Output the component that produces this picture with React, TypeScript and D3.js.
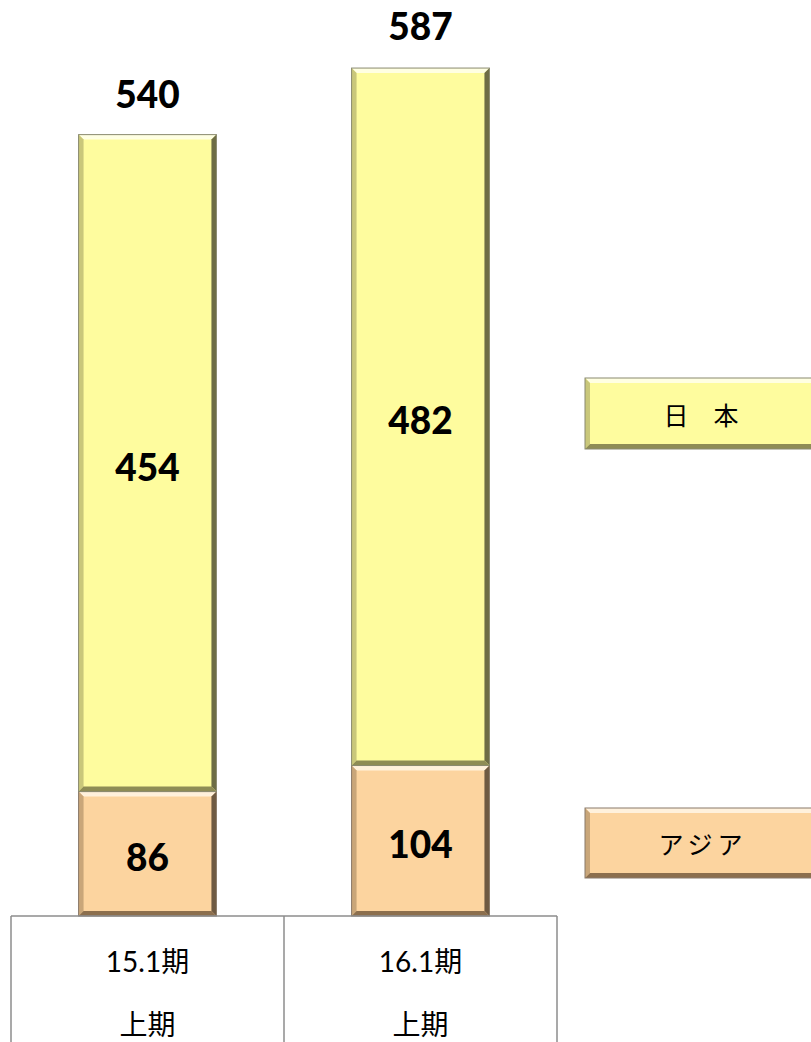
import React from "react";
import * as d3 from "d3";

const categories = ["15.1期", "16.1期"];
const periodLabels = ["上期", "上期"];
const asiaValues = [86, 104];
const japanValues = [454, 482];
const totalValues = [540, 587];
const seriesNames = ["日　本", "アジア"];

const W = 811;
const H = 1042;
const baseY = 916;

const YELLOW = { fill: "#FEFC9E", top: "#FFFFE2", left: "#C9C77A", right: "#6E6D45", bottom: "#8E8C55", border: "#8a8a70" };
const ORANGE = { fill: "#FCD49F", top: "#FFF1DC", left: "#C9A679", right: "#6F5A42", bottom: "#8C6F4E", border: "#8a7a6a" };

type Pal = typeof YELLOW;

function Bevel({ x, y, w, h, pal, b = 5 }: { x: number; y: number; w: number; h: number; pal: Pal; b?: number }) {
  const pts = (a: number[][]) => a.map((p) => p.join(",")).join(" ");
  return (
    <g>
      <rect x={x} y={y} width={w} height={h} fill={pal.fill} />
      <polygon points={pts([[x, y], [x + w, y], [x + w - b, y + b], [x + b, y + b]])} fill={pal.top} />
      <polygon points={pts([[x, y], [x + b, y + b], [x + b, y + h - b], [x, y + h]])} fill={pal.left} />
      <polygon points={pts([[x + w, y], [x + w, y + h], [x + w - b, y + h - b], [x + w - b, y + b]])} fill={pal.right} />
      <polygon points={pts([[x, y + h], [x + w, y + h], [x + w - b, y + h - b], [x + b, y + h - b]])} fill={pal.bottom} />
      <rect x={x} y={y} width={w} height={h} fill="none" stroke={pal.border} strokeWidth={1} />
    </g>
  );
}

export default function App() {
  const x = d3.scaleBand<string>().domain(categories).range([11, 557]).paddingInner(0).paddingOuter(0);
  const y = d3.scaleLinear().domain([0, 600]).range([baseY, baseY - 600 * 1.447]);
  const bw = x.bandwidth() * 0.505;
  const numFont = "Lato, 'Noto Sans', sans-serif";
  const cjkFont = "Lato, 'Noto Sans CJK JP', sans-serif";

  return (
    <svg width={W} height={H} style={{ position: "absolute", left: 0, top: 0, background: "#fff" }}>
      {categories.map((c, i) => {
        const cx = (x(c) as number) + x.bandwidth() / 2;
        const bx = cx - bw / 2;
        const yA = y(asiaValues[i]);
        const yJ = y(asiaValues[i] + japanValues[i]);
        return (
          <g key={c}>
            <Bevel x={bx} y={yA} w={bw} h={baseY - yA} pal={ORANGE} />
            <Bevel x={bx} y={yJ} w={bw} h={yA - yJ} pal={YELLOW} />
            <text x={cx} y={(yA + baseY) / 2 + 3} textAnchor="middle" dominantBaseline="central" fontFamily={numFont} fontWeight="900" fontSize={37} fill="#000">
              {asiaValues[i]}
            </text>
            <text x={cx} y={(yJ + yA) / 2 + 3} textAnchor="middle" dominantBaseline="central" fontFamily={numFont} fontWeight="900" fontSize={37} fill="#000">
              {japanValues[i]}
            </text>
            <text x={cx} y={y(totalValues[i]) - 27} textAnchor="middle" fontFamily={numFont} fontWeight="900" fontSize={37} fill="#000">
              {totalValues[i]}
            </text>
          </g>
        );
      })}
      {/* category table */}
      <g stroke="#8c8c8c" strokeWidth={1.5} fill="none">
        <line x1={11} x2={557} y1={baseY} y2={baseY} />
        {[...categories.map((c) => x(c) as number), 557].map((v, i) => (
          <line key={i} x1={v} x2={v} y1={baseY} y2={H} />
        ))}
      </g>
      {categories.map((c, i) => {
        const cx = (x(c) as number) + x.bandwidth() / 2;
        return (
          <g key={"l" + c}>
            <text x={cx} y={961} textAnchor="middle" dominantBaseline="central" fontFamily={cjkFont} fontSize={28} fill="#000">
              {c}
            </text>
            <text x={cx} y={1023} textAnchor="middle" dominantBaseline="central" fontFamily="'Noto Sans CJK JP', sans-serif" fontSize={28} fill="#000">
              {periodLabels[i]}
            </text>
          </g>
        );
      })}
      {/* legend */}
      <Bevel x={585} y={378} w={240} h={71} pal={YELLOW} />
      <text x={701} y={414} textAnchor="middle" dominantBaseline="central" fontFamily="'Noto Sans CJK JP', sans-serif" fontSize={25} fill="#000">
        {seriesNames[0]}
      </text>
      <Bevel x={585} y={808} w={240} h={70} pal={ORANGE} />
      <text x={703} y={843} textAnchor="middle" dominantBaseline="central" fontFamily="'Noto Sans CJK JP', sans-serif" fontSize={25} letterSpacing={5} fill="#000">
        {seriesNames[1]}
      </text>
    </svg>
  );
}
